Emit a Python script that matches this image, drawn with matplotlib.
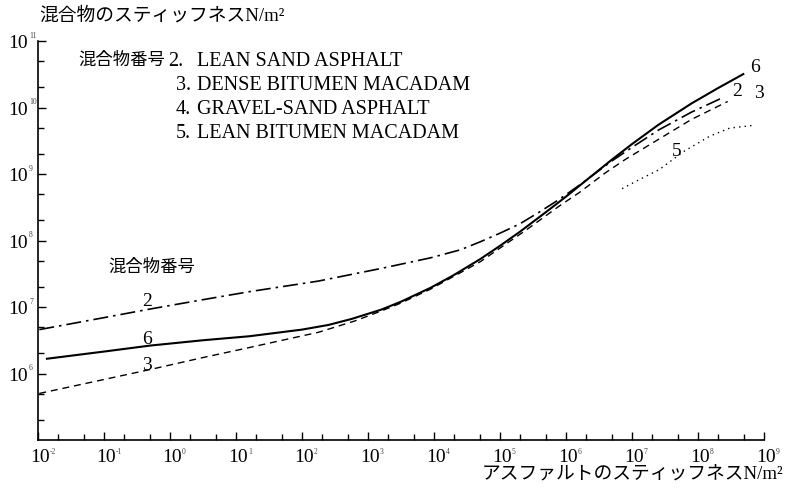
import numpy as np
import matplotlib
matplotlib.use('Agg')
import matplotlib.pyplot as plt
from matplotlib.ticker import LogLocator, NullFormatter, FixedLocator
from matplotlib.transforms import offset_copy

plt.rcParams['font.family'] = ['Liberation Serif', 'Noto Sans CJK JP']

# curves, as log10 exponents (x = asphalt, y = mix)
x6 = [-1.88, -1.0, -0.3, 0.5, 1.2, 2.0, 2.4, 2.75, 3.2, 3.5, 3.95, 4.3, 4.7, 5.0,
      5.3, 5.7, 6.0, 6.2, 6.5, 6.7, 7.0, 7.4, 7.9, 8.3, 8.7]
y6 = [6.22, 6.33, 6.42, 6.50, 6.56, 6.66, 6.73, 6.82, 6.96, 7.08, 7.29, 7.48, 7.72, 7.92,
      8.13, 8.43, 8.66, 8.82, 9.06, 9.22, 9.45, 9.74, 10.06, 10.29, 10.51]

x2 = [-1.98, -1.0, -0.3, 0.5, 1.2, 2.25, 3.2, 3.95, 4.4, 4.7, 5.0, 5.3, 5.6, 5.9,
      6.2, 6.7, 7.0, 7.4, 7.9, 8.4]
y2 = [6.66, 6.84, 6.97, 7.11, 7.23, 7.39, 7.58, 7.74, 7.86, 7.98, 8.11, 8.25, 8.43, 8.62,
      8.83, 9.20, 9.40, 9.66, 9.93, 10.16]

x3 = [-1.98, -1.0, -0.3, 0.5, 1.2, 2.25, 2.8, 3.2, 3.5, 3.95, 4.7, 5.4, 5.9, 6.2,
      6.6, 6.9, 7.4, 7.9, 8.45]
y3 = [5.70, 5.91, 6.06, 6.24, 6.39, 6.62, 6.79, 6.94, 7.06, 7.27, 7.68, 8.16, 8.52, 8.72,
      9.02, 9.22, 9.52, 9.82, 10.09]

x5 = [6.85, 7.08, 7.42, 7.77, 8.18, 8.48, 8.82]
y5 = [8.78, 8.90, 9.07, 9.33, 9.57, 9.69, 9.73]

x_exps = list(range(-2, 10))
y_exps = list(range(6, 12))

legend_nums = ['2.', '3.', '4.', '5.']
legend_names = ['LEAN SAND ASPHALT', 'DENSE BITUMEN MACADAM',
                'GRAVEL-SAND ASPHALT', 'LEAN BITUMEN MACADAM']

W, H = 786, 493
fig = plt.figure(figsize=(W / 100, H / 100), dpi=100)
ax = fig.add_axes([38 / W, 1 - 440 / H, (764 - 38) / W, (440 - 41) / H])

def p(v):
    return 10 ** np.array(v)

ax.plot(p(x6), p(y6), color='black', lw=1.5, solid_capstyle='butt')
ax.plot(p(x2), p(y2), color='black', lw=1.2, dashes=(9, 3, 1.5, 3))
ax.plot(p(x3), p(y3), color='black', lw=1.0, dashes=(5, 3.5))
ax.plot(p(x5), p(y5), color='black', lw=1.0, dashes=(1, 3))

ax.set_xscale('log')
ax.set_yscale('log')
ax.set_xlim(1e-2, 1e9)
ax.set_ylim(1e5, 1e11)

for s in ['top', 'right']:
    ax.spines[s].set_visible(False)
for s in ['left', 'bottom']:
    ax.spines[s].set_linewidth(1.2)

ax.xaxis.set_major_locator(FixedLocator([10.0 ** e for e in x_exps]))
ax.yaxis.set_major_locator(FixedLocator([10.0 ** e for e in y_exps]))
ax.xaxis.set_minor_locator(LogLocator(base=10, subs=(2.0, 5.0), numticks=30))
ax.yaxis.set_minor_locator(LogLocator(base=10, subs=(2.0, 5.0), numticks=30))
ax.xaxis.set_minor_formatter(NullFormatter())
ax.yaxis.set_minor_formatter(NullFormatter())
ax.tick_params(which='major', direction='in', length=6, width=1.0,
               labelbottom=False, labelleft=False)
ax.tick_params(which='minor', direction='in', length=4.5, width=1.0)

# tick labels: "10" with a tiny exponent, as in the printed figure
xt = ax.get_xaxis_transform()
yt = ax.get_yaxis_transform()
for e in x_exps:
    ax.text(10.0 ** e, 0, '10', fontsize=14, ha='center', va='top',
            transform=offset_copy(xt, fig=fig, x=2, y=-9, units='dots'))
    ax.text(10.0 ** e, 0, str(e), fontsize=5.5, ha='left', va='top', color='#444444',
            transform=offset_copy(xt, fig=fig, x=12, y=-8, units='dots'))
for e in y_exps:
    ax.text(0, 10.0 ** e, '10', fontsize=14, ha='right', va='center',
            transform=offset_copy(yt, fig=fig, x=-10, y=-3, units='dots'))
    ax.text(0, 10.0 ** e, str(e), fontsize=5.5, ha='left', va='center', color='#444444',
            transform=offset_copy(yt, fig=fig, x=-9, y=5, units='dots'))

def fpos(x, y):
    return x / W, 1 - y / H

fig.text(*fpos(39, 16), '混合物のスティッフネスN/m²', fontsize=13.5, ha='left', va='center')
fig.text(*fpos(783, 474), 'アスファルトのスティッフネスN/m²', fontsize=13.5, ha='right', va='center')

fig.text(*fpos(78, 61), '混合物番号', fontsize=12.5, ha='left', va='center')
legend_y = [61, 86, 110, 134]
for i, (n, name) in enumerate(zip(legend_nums, legend_names)):
    fig.text(*fpos(168 if i == 0 else 176, legend_y[i]), n, fontsize=14.5, ha='left', va='center')
    fig.text(*fpos(197, legend_y[i]), name, fontsize=14.5, ha='left', va='center')

fig.text(*fpos(108, 268), '混合物番号', fontsize=12.5, ha='left', va='center')

curve_labels = [('2', 147, 302), ('6', 147, 340), ('3', 147, 365),
                ('6', 755, 68), ('2', 737, 91), ('3', 759, 93), ('5', 677, 152)]
for t, x, y in curve_labels:
    fig.text(*fpos(x, y), t, fontsize=14, ha='center', va='center')

fig.savefig('out.png', dpi=100)
